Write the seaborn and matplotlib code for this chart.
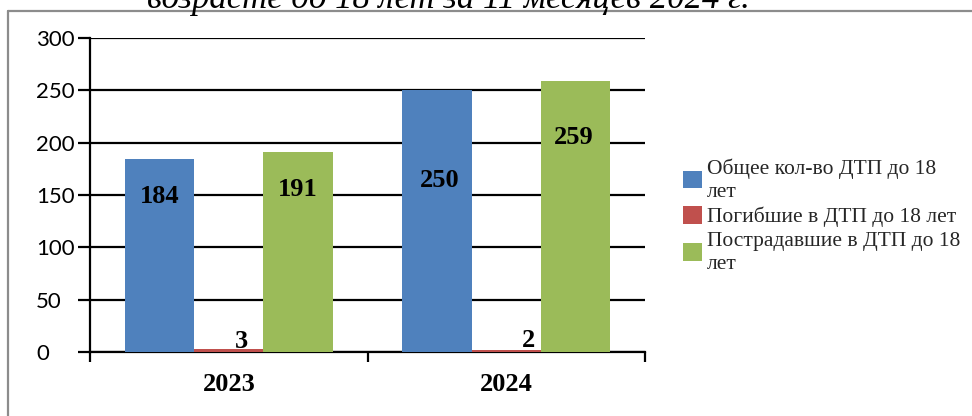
import matplotlib
matplotlib.use("Agg")
import matplotlib.pyplot as plt
import seaborn as sns
import pandas as pd
from matplotlib.lines import Line2D
from matplotlib.ticker import FixedLocator

years = ["2023", "2024"]
series_names = ["Общее кол-во ДТП до 18\nлет",
                "Погибшие в ДТП до 18 лет",
                "Пострадавшие в ДТП до 18\nлет"]
total_dtp = [184, 250]
killed = [3, 2]
injured = [191, 259]
y_ticks = [0, 50, 100, 150, 200, 250, 300]
title_text = "возрасте до 18 лет за 11 месяцев 2024 г."

colors = ["#4F81BD", "#C0504D", "#9BBB59"]

rows = []
for name, vals in zip(series_names, [total_dtp, killed, injured]):
    for y, v in zip(years, vals):
        rows.append({"year": y, "series": name, "value": v})
df = pd.DataFrame(rows)

sns.set_theme(style="white")
plt.rcParams["font.family"] = ["Liberation Serif", "DejaVu Serif"]

W, H = 972, 416
fig = plt.figure(figsize=(W / 100, H / 100), dpi=100)
ax = fig.add_axes([90 / W, 1 - 352 / H, (645 - 90) / W, (352 - 38) / H])

sns.barplot(data=df, x="year", y="value", hue="series", palette=colors,
            width=0.75, saturation=1, ax=ax, errorbar=None, legend=True)

ax.set_xlim(-0.5, 1.5)
ax.set_ylim(0, 300)
ax.set_xlabel("")
ax.set_ylabel("")

# grid
ax.set_yticks(y_ticks)
ax.yaxis.grid(True, color="black", linewidth=1.6)
ax.set_axisbelow(True)
for b in ax.patches:
    b.set_zorder(3)
    b.set_edgecolor("none")

for s in ["top", "right"]:
    ax.spines[s].set_visible(False)
for s in ["left", "bottom"]:
    ax.spines[s].set_color("black")
    ax.spines[s].set_linewidth(1.6)

# y tick labels, left aligned
ax.tick_params(axis="y", which="major", direction="out", length=8.6, width=1.6,
               color="black", left=True, pad=30.2)
ax.set_yticklabels([str(v) for v in y_ticks], fontfamily="Lato", fontsize=16,
                   color="black")
for lab in ax.get_yticklabels():
    lab.set_horizontalalignment("left")

# x ticks: boundary marks as minor, labels at centers
ax.xaxis.set_minor_locator(FixedLocator([-0.5, 0.5, 1.5]))
ax.tick_params(axis="x", which="minor", direction="out", length=7.5, width=1.6,
               color="black", bottom=True)
ax.tick_params(axis="x", which="major", length=0, pad=15)
ax.set_xticklabels(years, fontsize=19, fontweight="bold", color="black",
                   fontfamily="Liberation Serif")

# value labels (offsets in points relative to bar top)
offsets = [[(0, -27), (2, -65)],
           [(9, 5), (16, 6.5)],
           [(0, -27), (-1, -41)]]
for ci, cont in enumerate(ax.containers):
    for bi, bar in enumerate(cont):
        dx, dy = offsets[ci][bi]
        ax.annotate(f"{int(bar.get_height())}",
                    xy=(bar.get_x() + bar.get_width() / 2, bar.get_height()),
                    xytext=(dx, dy), textcoords="offset points",
                    ha="center", va="center", fontsize=19, fontweight="bold",
                    color="black", zorder=5, annotation_clip=False)

# legend outside
handles, labels = ax.get_legend_handles_labels()
ax.get_legend().remove()
leg = fig.legend(handles, labels, loc="center left",
                 bbox_to_anchor=(683 / W, 1 - 216 / H), frameon=False,
                 prop={"family": "Liberation Serif", "size": 15.5},
                 handlelength=0.9, handleheight=0.9, handletextpad=0.2,
                 labelspacing=0.2, borderpad=0, borderaxespad=0)
for t in leg.get_texts():
    t.set_linespacing(1.3)

# outer frame (top and left edges only visible)
fig.add_artist(Line2D([8 / W, 1.0], [1 - 11 / H, 1 - 11 / H],
                      transform=fig.transFigure, color="#8c8c8c", linewidth=1.6))
fig.add_artist(Line2D([8 / W, 8 / W], [0.0, 1 - 11 / H],
                      transform=fig.transFigure, color="#8c8c8c", linewidth=1.6))

# clipped title above (partially out of the picture, as in the source)
fig.text(448 / W, 1 - 8 / H, title_text, ha="center", va="baseline",
         fontsize=25, fontstyle="italic", fontfamily="Liberation Serif",
         color="black")

fig.savefig("out.png", dpi=100)
